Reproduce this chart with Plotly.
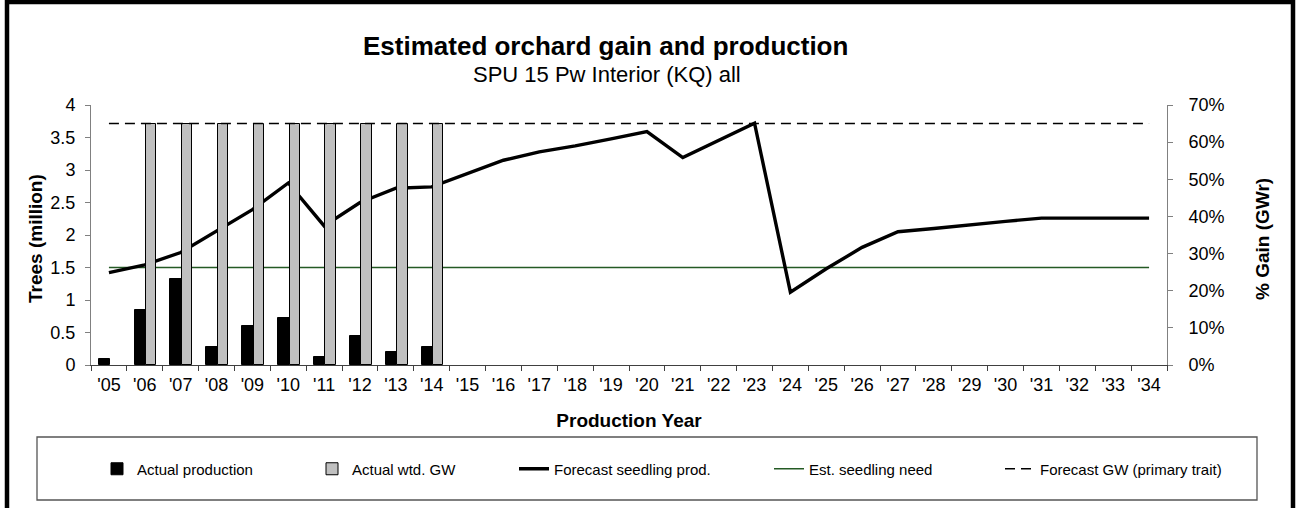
import plotly.graph_objects as go

# ---------------- data ----------------
years = ["'05", "'06", "'07", "'08", "'09", "'10", "'11", "'12", "'13", "'14",
         "'15", "'16", "'17", "'18", "'19", "'20", "'21", "'22", "'23", "'24",
         "'25", "'26", "'27", "'28", "'29", "'30", "'31", "'32", "'33", "'34"]

actual_years = ["'05", "'06", "'07", "'08", "'09", "'10", "'11", "'12", "'13", "'14"]
actual_production = [0.10, 0.85, 1.32, 0.28, 0.60, 0.73, 0.12, 0.45, 0.20, 0.27]

gw_years = ["'06", "'07", "'08", "'09", "'10", "'11", "'12", "'13", "'14"]
actual_wtd_gw = [0.65, 0.65, 0.65, 0.65, 0.65, 0.65, 0.65, 0.65, 0.65]

forecast_seedling_prod = [1.42, 1.54, 1.73, 2.06, 2.39, 2.80, 2.14, 2.50, 2.72, 2.74,
                          2.95, 3.15, 3.28, 3.37, 3.48, 3.59, 3.19, 3.46, 3.72, 1.12,
                          1.48, 1.81, 2.05, 2.10, 2.16, 2.21, 2.26, 2.26, 2.26, 2.26]

est_seedling_need = [1.5, 1.5, 1.5, 1.5, 1.5, 1.5, 1.5, 1.5, 1.5, 1.5,
                     1.5, 1.5, 1.5, 1.5, 1.5, 1.5, 1.5, 1.5, 1.5, 1.5,
                     1.5, 1.5, 1.5, 1.5, 1.5, 1.5, 1.5, 1.5, 1.5, 1.5]

forecast_gw = [0.65, 0.65, 0.65, 0.65, 0.65, 0.65, 0.65, 0.65, 0.65, 0.65,
               0.65, 0.65, 0.65, 0.65, 0.65, 0.65, 0.65, 0.65, 0.65, 0.65,
               0.65, 0.65, 0.65, 0.65, 0.65, 0.65, 0.65, 0.65, 0.65, 0.65]

left_ticks = [0, 0.5, 1, 1.5, 2, 2.5, 3, 3.5, 4]
left_tick_text = ["0", "0.5", "1", "1.5", "2", "2.5", "3", "3.5", "4"]
right_ticks = [0, 0.1, 0.2, 0.3, 0.4, 0.5, 0.6, 0.7]
right_tick_text = ["0%", "10%", "20%", "30%", "40%", "50%", "60%", "70%"]

# ---------------- figure ----------------
FONT = "Liberation Sans, Arial, sans-serif"
LEG_FONT = dict(family=FONT, size=15, color="black")
W, H = 1296, 508
ML, MR, MT, MB = 91, 129, 105, 143
PW, PH = W - ML - MR, H - MT - MB


def px(x):
    return (x - ML) / PW


def py(y):
    return (H - MB - y) / PH


fig = go.Figure()

fig.add_trace(go.Bar(
    x=actual_years, y=actual_production, name="Actual production",
    marker=dict(color="black", line=dict(color="black", width=1)),
    width=0.32, offset=-0.285, yaxis="y", legend="legend",
))
fig.add_trace(go.Bar(
    x=gw_years, y=actual_wtd_gw, name="Actual wtd. GW",
    marker=dict(color="#c0c0c0", line=dict(color="black", width=1)),
    width=0.29, offset=0.035, yaxis="y2", legend="legend2",
))
fig.add_trace(go.Scatter(
    x=years, y=est_seedling_need, name="Est. seedling need", mode="lines",
    line=dict(color="#245a24", width=1.3), yaxis="y", legend="legend4",
))
fig.add_trace(go.Scatter(
    x=years, y=forecast_gw, name="Forecast GW (primary trait)", mode="lines",
    line=dict(color="black", width=1.5, dash="10px,6px"), yaxis="y2", legend="legend5",
))
fig.add_trace(go.Scatter(
    x=years, y=forecast_seedling_prod, name="Forecast seedling prod.", mode="lines",
    line=dict(color="black", width=3.4), yaxis="y", legend="legend3",
))

axis_font = dict(family=FONT, size=18, color="black")
title_font = dict(family=FONT, size=19, color="black")

fig.update_layout(
    width=W, height=H, autosize=False,
    margin=dict(l=ML, r=MR, t=MT, b=MB, pad=0),
    paper_bgcolor="white", plot_bgcolor="white",
    font=dict(family=FONT, color="black"),
    barmode="overlay",
    bargap=0,
    xaxis=dict(
        type="category", categoryorder="array", categoryarray=years,
        range=[-0.5, 29.5], tickson="boundaries", ticks="outside", ticklen=5,
        tickcolor="#404040", linecolor="#404040", linewidth=1, showline=True,
        showgrid=False, zeroline=False, tickfont=axis_font, ticklabelstandoff=3,
        title=dict(text="<b>Production Year</b>", font=title_font, standoff=20),
    ),
    xaxis2=dict(
        overlaying="x", anchor="y", side="bottom", type="linear",
        range=[-0.5, 29.5], tickmode="linear", tick0=-0.5, dtick=1,
        ticks="inside", ticklen=5, tickcolor="#404040",
        showticklabels=False, showline=False, showgrid=False, zeroline=False,
    ),
    yaxis=dict(
        range=[0, 4], tickvals=left_ticks, ticktext=left_tick_text,
        ticks="outside", ticklen=5, tickcolor="#808080",
        showline=True, linecolor="#808080", linewidth=1,
        showgrid=False, zeroline=False, tickfont=axis_font, ticklabelstandoff=6,
    ),
    yaxis2=dict(
        overlaying="y", side="right", range=[0, 0.7],
        tickvals=right_ticks, ticktext=right_tick_text,
        ticks="outside", ticklen=5, tickcolor="#808080",
        showline=True, linecolor="#808080", linewidth=1,
        showgrid=False, zeroline=False, tickfont=axis_font, ticklabelstandoff=12,
    ),
    yaxis3=dict(
        overlaying="y", side="right", anchor="x", range=[0, 0.7],
        tickvals=right_ticks, ticks="inside", ticklen=5, tickcolor="#808080",
        showticklabels=False, showline=False, showgrid=False, zeroline=False,
    ),
    showlegend=True,
)

legend_common = dict(orientation="h", xanchor="left", yanchor="middle",
                     bgcolor="rgba(0,0,0,0)", borderwidth=0, font=LEG_FONT,
                     y=py(469))
fig.update_layout(
    legend=dict(x=px(97), **legend_common),
    legend2=dict(x=px(312), **legend_common),
    legend3=dict(x=px(514), **legend_common),
    legend4=dict(x=px(769), **legend_common),
    legend5=dict(x=px(1000), **legend_common),
)

# legend box and outer frame
fig.add_shape(type="rect", xref="paper", yref="paper",
              x0=px(37), x1=px(1257), y0=py(500), y1=py(437),
              line=dict(color="#555555", width=1.3), fillcolor="rgba(0,0,0,0)", layer="below")
fig.add_shape(type="rect", xref="paper", yref="paper",
              x0=px(7), x1=px(1293), y0=py(530), y1=py(2),
              line=dict(color="black", width=4.5), fillcolor="rgba(0,0,0,0)", layer="above")

# title, subtitle and y-axis titles
fig.add_annotation(text="<b>Estimated orchard gain and production</b>",
                   xref="paper", yref="paper", x=px(605), y=py(46),
                   xanchor="center", yanchor="middle", showarrow=False,
                   font=dict(family=FONT, size=26, color="black"))
fig.add_annotation(text="SPU 15 Pw Interior (KQ) all",
                   xref="paper", yref="paper", x=px(607), y=py(74),
                   xanchor="center", yanchor="middle", showarrow=False,
                   font=dict(family=FONT, size=22, color="black"))
fig.add_annotation(text="<b>Trees (million)</b>", textangle=-90,
                   xref="paper", yref="paper", x=px(35), y=py(239),
                   xanchor="center", yanchor="middle", showarrow=False,
                   font=title_font)
fig.add_annotation(text="<b>% Gain (GWr)</b>", textangle=-90,
                   xref="paper", yref="paper", x=px(1262), y=py(239),
                   xanchor="center", yanchor="middle", showarrow=False,
                   font=title_font)

fig.write_html("out.html", config={"displayModeBar": False},
               post_script="document.body.style.margin='0';")
